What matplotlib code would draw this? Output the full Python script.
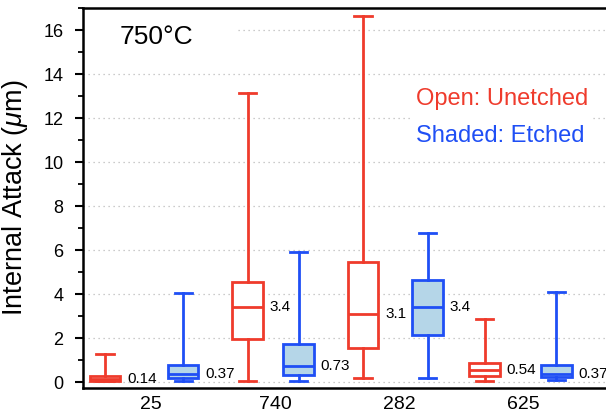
import matplotlib
matplotlib.use('Agg')
import matplotlib.pyplot as plt
from matplotlib.ticker import MultipleLocator, AutoMinorLocator
from matplotlib.patches import Rectangle

plt.rcParams['font.family'] = ['Liberation Sans', 'DejaVu Sans']
plt.rcParams['mathtext.fontset'] = 'custom'
plt.rcParams['mathtext.rm'] = 'Liberation Sans'
plt.rcParams['mathtext.it'] = 'Liberation Sans:italic'

# data: whisker low, q1, median, q3, whisker high
groups = ['25', '740', '282', '625']
unetched_lo = [0.03, 0.05, 0.20, 0.07]
unetched_q1 = [0.06, 1.95, 1.56, 0.28]
unetched_med = [0.14, 3.4, 3.1, 0.54]
unetched_q3 = [0.26, 4.55, 5.47, 0.85]
unetched_hi = [1.28, 13.15, 16.65, 2.85]

etched_lo = [0.06, 0.05, 0.17, 0.08]
etched_q1 = [0.20, 0.32, 2.14, 0.22]
etched_med = [0.37, 0.73, 3.4, 0.37]
etched_q3 = [0.76, 1.75, 4.64, 0.77]
etched_hi = [4.06, 5.92, 6.79, 4.08]

# layout: box positions (group ticks at 1..4)
pos_unetched = [0.63, 1.78, 2.71, 3.69]
pos_etched = [1.26, 2.19, 3.23, 4.27]
box_w = 0.245

red = '#EF3B2C'
blue = '#1F4FF5'
fill = '#B5D6E8'


def make_stats(lo, q1, med, q3, hi):
    return [dict(whislo=a, q1=b, med=c, q3=d, whishi=e, fliers=[])
            for a, b, c, d, e in zip(lo, q1, med, q3, hi)]


fig = plt.figure(figsize=(6.06, 4.13), dpi=100)
ax = fig.add_axes([83 / 606, 25 / 413, 560 / 606, 380 / 413])

for stats, pos, col, face in [
        (make_stats(unetched_lo, unetched_q1, unetched_med, unetched_q3, unetched_hi), pos_unetched, red, 'white'),
        (make_stats(etched_lo, etched_q1, etched_med, etched_q3, etched_hi), pos_etched, blue, fill)]:
    ax.bxp(stats, positions=pos, widths=box_w, capwidths=0.14, patch_artist=True,
           showfliers=False, manage_ticks=False, zorder=3,
           boxprops=dict(facecolor=face, edgecolor=col, linewidth=2),
           whiskerprops=dict(color=col, linewidth=2),
           capprops=dict(color=col, linewidth=2),
           medianprops=dict(color=col, linewidth=2))
    for p, s in zip(pos, stats):
        ax.annotate(f"{s['med']:g}", xy=(p + box_w / 2, s['med']), xytext=(5, 0),
                    textcoords='offset points', va='center', ha='left',
                    fontsize=11, zorder=5)

ax.set_xlim(0.452, 1 + (643 - 151) / 124)
ax.set_ylim(-0.27, 17.0)
ax.set_xticks(range(1, len(groups) + 1))
ax.set_xticklabels(groups, fontsize=14)
ax.tick_params(axis='x', length=0, pad=6)

ax.yaxis.set_major_locator(MultipleLocator(2))
ax.yaxis.set_minor_locator(AutoMinorLocator(2))
ax.tick_params(axis='y', which='major', labelsize=13, length=6, width=1.5,
               direction='out', pad=8)
ax.tick_params(axis='y', which='minor', length=3.5, width=1.3, direction='out')
ax.set_ylabel('Internal Attack ($\\mu$m)', fontsize=19.5, labelpad=10)

ax.grid(axis='y', linestyle=(0, (1, 3)), color='#BBBBBB', linewidth=0.9, zorder=0)
ax.set_axisbelow(True)

for side in ['left', 'top', 'bottom']:
    ax.spines[side].set_linewidth(1.8)

# white patches covering the grid behind the texts
ax.add_patch(Rectangle((0.452, 15.0), 1.677 - 0.452, 2.0, facecolor='white',
                       edgecolor='none', zorder=1))
ax.add_patch(Rectangle((3.1, 10.7), 1.45, 2.6, facecolor='white',
                       edgecolor='none', zorder=1))

ax.text(0.75, 15.7, '750°C', fontsize=19, va='center', ha='left', zorder=5)
ax.text(3.14, 12.85, 'Open: Unetched', color=red, fontsize=17, va='center', ha='left', zorder=5)
ax.text(3.14, 11.2, 'Shaded: Etched', color=blue, fontsize=17, va='center', ha='left', zorder=5)

fig.savefig('out.png', dpi=100)
